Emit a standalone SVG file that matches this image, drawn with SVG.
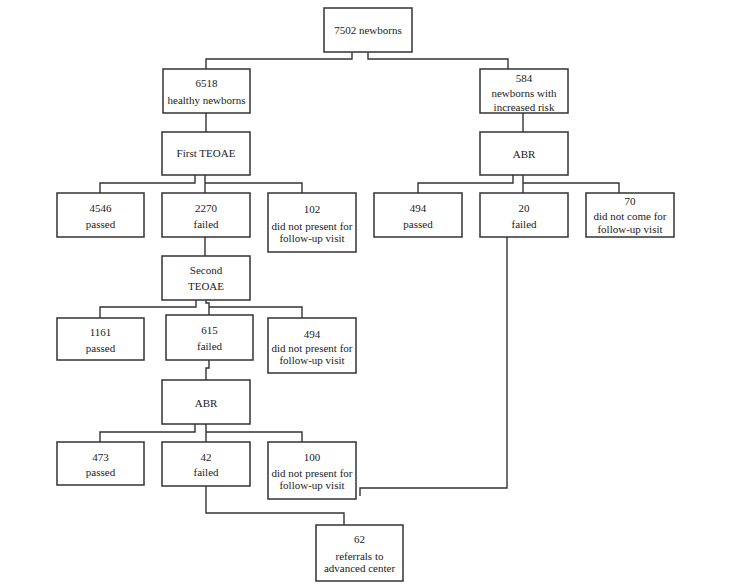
<svg xmlns="http://www.w3.org/2000/svg" width="730" height="588" viewBox="0 0 730 588">
<style>
  .box { fill: #ffffff; stroke: #333333; stroke-width: 1.5; }
  .t { font-family: "Liberation Serif", "Times New Roman", serif; font-size: 11px; fill: #222222; text-anchor: middle; }
  .c { fill: none; stroke: #333333; stroke-width: 1.4; }
</style>
<rect width="730" height="588" fill="#ffffff"/>
<g id="connectors">
  <path class="c" d="M352,52 V59 H206 V69"/>
  <path class="c" d="M368,52 V59 H508 V69"/>
  <path class="c" d="M206,113 V132"/>
  <path class="c" d="M523,113 V132"/>
  <path class="c" d="M195,175 V183 H100 V193"/>
  <path class="c" d="M205,175 V193"/>
  <path class="c" d="M205,183 H302 V193"/>
  <path class="c" d="M513,175 V183 H418 V193"/>
  <path class="c" d="M523,175 V193"/>
  <path class="c" d="M523,183 H619 V193"/>
  <path class="c" d="M205,237 V256"/>
  <path class="c" d="M196,300 V307 H100 V318"/>
  <path class="c" d="M206,300 V303 H209 V315"/>
  <path class="c" d="M209,307 H302 V318"/>
  <path class="c" d="M209,360 V368 H206 V380"/>
  <path class="c" d="M195,424 V432 H100 V442"/>
  <path class="c" d="M206,424 V442"/>
  <path class="c" d="M206,432 H302 V442"/>
  <path class="c" d="M206,486 V513 H344 V525"/>
  <path class="c" d="M507,237 V488 H360 V496"/>
</g>
<g id="n7502"><rect class="box" x="324" y="8" width="88" height="44"/><text class="t" x="368" y="34">7502 newborns</text></g>
<g id="n6518"><rect class="box" x="163" y="69" width="87" height="44"/><text class="t" x="206.5" y="87">6518</text><text class="t" x="206.5" y="104">healthy newborns</text></g>
<g id="n584"><rect class="box" x="480" y="69" width="88" height="44"/><text class="t" x="524" y="82">584</text><text class="t" x="524" y="97">newborns with</text><text class="t" x="524" y="111">increased risk</text></g>
<g id="firstTEOAE"><rect class="box" x="162" y="132" width="88" height="43"/><text class="t" x="206" y="157">First TEOAE</text></g>
<g id="abrRight"><rect class="box" x="480" y="132" width="88" height="43"/><text class="t" x="524" y="158">ABR</text></g>
<g id="n4546"><rect class="box" x="57" y="193" width="87" height="44"/><text class="t" x="100.5" y="212">4546</text><text class="t" x="100.5" y="228">passed</text></g>
<g id="n2270"><rect class="box" x="162" y="193" width="88" height="44"/><text class="t" x="206" y="212">2270</text><text class="t" x="206" y="228">failed</text></g>
<g id="n102"><rect class="box" x="268" y="193" width="88" height="59"/><text class="t" x="312" y="213">102</text><text class="t" x="312" y="229.5">did not present for</text><text class="t" x="312" y="242">follow-up visit</text></g>
<g id="n494passed"><rect class="box" x="374" y="193" width="88" height="44"/><text class="t" x="418" y="212">494</text><text class="t" x="418" y="228">passed</text></g>
<g id="n20"><rect class="box" x="480" y="193" width="88" height="44"/><text class="t" x="524" y="212">20</text><text class="t" x="524" y="228">failed</text></g>
<g id="n70"><rect class="box" x="586" y="193" width="88" height="44"/><text class="t" x="630" y="205">70</text><text class="t" x="630" y="220">did not come for</text><text class="t" x="630" y="232.5">follow-up visit</text></g>
<g id="secondTEOAE"><rect class="box" x="162" y="256" width="88" height="44"/><text class="t" x="206" y="274">Second</text><text class="t" x="206" y="290">TEOAE</text></g>
<g id="n1161"><rect class="box" x="57" y="318" width="87" height="42"/><text class="t" x="100.5" y="336">1161</text><text class="t" x="100.5" y="352">passed</text></g>
<g id="n615"><rect class="box" x="166" y="315" width="87" height="45"/><text class="t" x="209.5" y="334">615</text><text class="t" x="209.5" y="350">failed</text></g>
<g id="n494absent"><rect class="box" x="268" y="318" width="88" height="55"/><text class="t" x="312" y="338">494</text><text class="t" x="312" y="352">did not present for</text><text class="t" x="312" y="364">follow-up visit</text></g>
<g id="abrLeft"><rect class="box" x="162" y="380" width="88" height="44"/><text class="t" x="206" y="407">ABR</text></g>
<g id="n473"><rect class="box" x="57" y="442" width="87" height="43"/><text class="t" x="100.5" y="461">473</text><text class="t" x="100.5" y="476">passed</text></g>
<g id="n42"><rect class="box" x="162" y="442" width="88" height="44"/><text class="t" x="206" y="461">42</text><text class="t" x="206" y="476">failed</text></g>
<g id="n100"><rect class="box" x="268" y="442" width="88" height="57"/><text class="t" x="312" y="461">100</text><text class="t" x="312" y="477">did not present for</text><text class="t" x="312" y="489">follow-up visit</text></g>
<g id="n62"><rect class="box" x="316" y="525" width="87" height="56"/><text class="t" x="359.5" y="543">62</text><text class="t" x="359.5" y="560">referrals to</text><text class="t" x="359.5" y="572">advanced center</text></g>
</svg>
